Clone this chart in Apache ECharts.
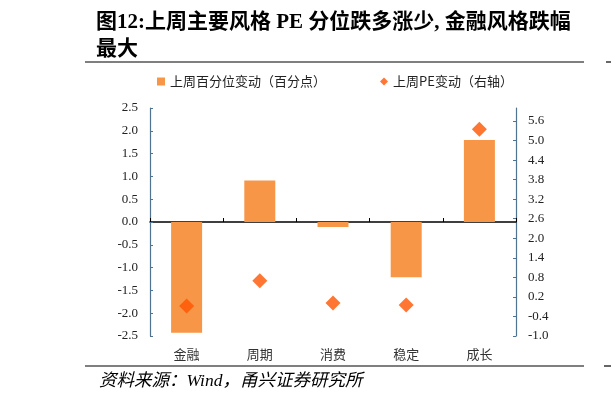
<!DOCTYPE html>
<html><head><meta charset="utf-8">
<script src="https://cdn.jsdelivr.net/npm/echarts@6/dist/echarts.min.js"></script>
<style>html,body{margin:0;padding:0;background:#fff}#c{width:611px;height:399px}</style>
</head><body><div id="c"></div>
<script>
var categories = ['金融', '周期', '消费', '稳定', '成长'];
var pctChange = [-2.43, 0.91, -0.11, -1.21, 1.80];
var peChange = [-0.08, 0.70, 0.01, -0.05, 5.35];
var leftTicks = [-2.5, -2.0, -1.5, -1.0, -0.5, 0.0, 0.5, 1.0, 1.5, 2.0, 2.5];
var rightTicks = [-1.0, -0.4, 0.2, 0.8, 1.4, 2.0, 2.6, 3.2, 3.8, 4.4, 5.0, 5.6];
var seriesNames = ['上周百分位变动（百分点）', '上周PE变动（右轴）'];
var titleText = '图12:上周主要风格 PE 分位跌多涨少, 金融风格跌幅\n最大';
var sourceText = '资料来源：Wind，甬兴证券研究所';

var serif = '"Liberation Serif", "Noto Sans CJK SC", serif';
var cjk = '"Noto Sans CJK SC", sans-serif';
var axisBlue = '#4f7391';

var chart = echarts.init(document.getElementById('c'), null, {renderer: 'canvas'});
chart.setOption({
  animation: false,
  backgroundColor: '#fff',
  title: {
    text: titleText,
    left: 96, top: 9, padding: 0,
    textStyle: {fontFamily: serif, fontWeight: 'bold', fontSize: 21, lineHeight: 27, color: '#000'}
  },
  legend: {
    top: 75, left: 157, padding: 0,
    itemGap: 54, itemWidth: 8, itemHeight: 8,
    textStyle: {fontFamily: cjk, fontSize: 13, color: '#222'},
    data: [
      {name: seriesNames[0], icon: 'rect'},
      {name: seriesNames[1], icon: 'diamond'}
    ]
  },
  grid: {left: 150, right: 95, top: 108, bottom: 63},
  xAxis: [
    {
      type: 'category', data: categories, position: 'bottom',
      axisLine: {onZero: true, onZeroAxisIndex: 0, lineStyle: {color: '#000', width: 1.5}},
      axisTick: {show: true, inside: true, length: 4, lineStyle: {color: '#000'}},
      axisLabel: {show: false}
    },
    {
      type: 'category', data: categories, position: 'bottom',
      axisLine: {show: false, onZero: false},
      axisTick: {show: false},
      axisLabel: {show: true, margin: 12, fontFamily: cjk, fontSize: 13, color: '#333'}
    }
  ],
  yAxis: [
    {
      type: 'value', min: -2.5, max: 2.5, interval: 0.5, position: 'left',
      splitLine: {show: false},
      axisLine: {show: true, lineStyle: {color: axisBlue, width: 1.2}},
      axisTick: {show: true, inside: true, length: 3, customValues: leftTicks, lineStyle: {color: axisBlue}},
      axisLabel: {margin: 12, customValues: leftTicks, fontFamily: serif, fontSize: 13, color: '#222',
        formatter: function (v) { return v.toFixed(1); }}
    },
    {
      type: 'value', min: -1.0, max: 6.0, position: 'right',
      splitLine: {show: false},
      axisLine: {show: true, lineStyle: {color: axisBlue, width: 1.2}},
      axisTick: {show: true, inside: true, length: 3, customValues: rightTicks, lineStyle: {color: axisBlue}},
      axisLabel: {margin: 12, customValues: rightTicks, fontFamily: serif, fontSize: 13, color: '#222',
        formatter: function (v) { return v.toFixed(1); }}
    }
  ],
  series: [
    {
      name: seriesNames[0], type: 'bar', xAxisIndex: 0, yAxisIndex: 0,
      data: pctChange, barWidth: 31,
      itemStyle: {color: '#f79646'}
    },
    {
      name: seriesNames[1], type: 'scatter', xAxisIndex: 0, yAxisIndex: 1,
      data: peChange, symbol: 'diamond', symbolSize: 15,
      itemStyle: {color: '#ff5500'}, z: 5
    }
  ],
  graphic: [
    {type: 'line', shape: {x1: 85, y1: 62, x2: 584, y2: 62}, style: {stroke: '#000', lineWidth: 1.2}},
    {type: 'line', shape: {x1: 606, y1: 62, x2: 611, y2: 62}, style: {stroke: '#000', lineWidth: 1.2}},
    {type: 'line', shape: {x1: 85, y1: 366, x2: 584, y2: 366}, style: {stroke: '#000', lineWidth: 1.2}},
    {type: 'line', shape: {x1: 604, y1: 366, x2: 611, y2: 366}, style: {stroke: '#000', lineWidth: 1.2}},
    {type: 'text', left: 99, top: 373,
      style: {text: sourceText, font: 'italic 17.5px "Liberation Serif", "Noto Sans CJK SC", serif', fill: '#000'}}
  ]
});
</script>
</body></html>
